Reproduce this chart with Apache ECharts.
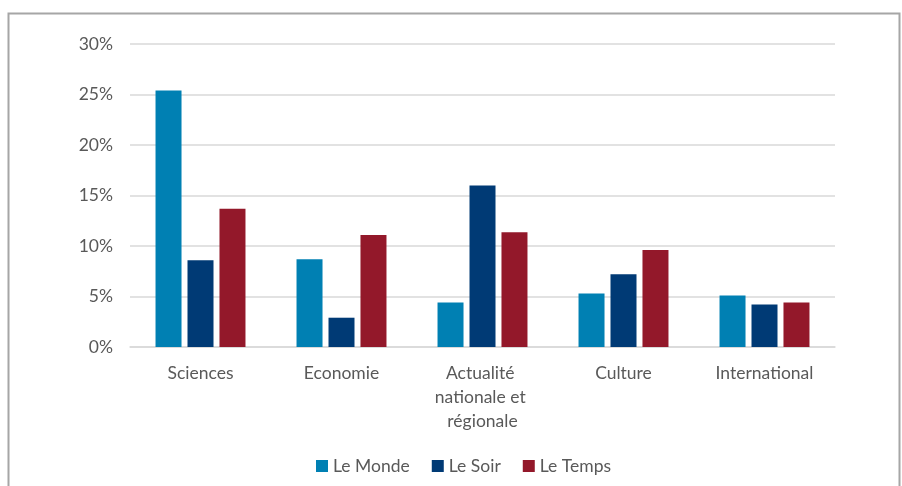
<!DOCTYPE html>
<html>
<head>
<meta charset="utf-8">
<script src="https://cdn.jsdelivr.net/npm/echarts@6/dist/echarts.min.js"></script>
<style>
html,body{margin:0;padding:0;background:#fff;}
#chart{width:902px;height:486px;}
</style>
</head>
<body>
<div id="chart"></div>
<script>
const categories = ["Sciences", "Economie", "Actualité nationale et régionale", "Culture", "International"];
const seriesNames = ["Le Monde", "Le Soir", "Le Temps"];
const leMonde = [25.4, 8.7, 4.4, 5.3, 5.1];
const leSoir = [8.6, 2.9, 16.0, 7.2, 4.2];
const leTemps = [13.7, 11.1, 11.35, 9.6, 4.4];
const colors = ["#0080B3", "#003A75", "#93182A"];

const chart = echarts.init(document.getElementById('chart'), null, {renderer: 'canvas'});
const font = 'Lato, "Noto Sans", sans-serif';
const values = [leMonde, leSoir, leTemps];
chart.setOption({
  animation: false,
  textStyle: {fontFamily: font},
  graphic: [{
    type: 'rect', left: 6, top: 11, z: -1,
    shape: {width: 891, height: 490},
    style: {fill: 'none', stroke: '#a6a6a6', lineWidth: 2}
  }],
  grid: {left: 130, right: 67, top: 44, bottom: 139},
  legend: {
    left: 311, top: 452,
    itemWidth: 12, itemHeight: 12, itemGap: 22,
    icon: 'rect',
    textStyle: {color: '#595959', fontSize: 17.5, fontFamily: font},
    data: seriesNames
  },
  xAxis: {
    type: 'category',
    data: categories,
    axisLine: {lineStyle: {color: '#d9d9d9', width: 1.5}},
    axisTick: {show: false},
    axisLabel: {
      color: '#595959', fontSize: 17.5, fontFamily: font,
      margin: 14, lineHeight: 24, width: 110, overflow: 'break', interval: 0
    }
  },
  yAxis: {
    type: 'value',
    min: 0, max: 30, interval: 5,
    axisLine: {show: false},
    axisTick: {show: false},
    splitLine: {lineStyle: {color: '#d9d9d9', width: 1.5}},
    axisLabel: {color: '#595959', fontSize: 17.5, fontFamily: font, margin: 17, formatter: '{value}%'}
  },
  series: seriesNames.map((n, i) => ({
    name: n,
    type: 'bar',
    data: values[i],
    barWidth: 26,
    barGap: '23%',
    itemStyle: {color: colors[i]}
  }))
});
</script>
</body>
</html>
